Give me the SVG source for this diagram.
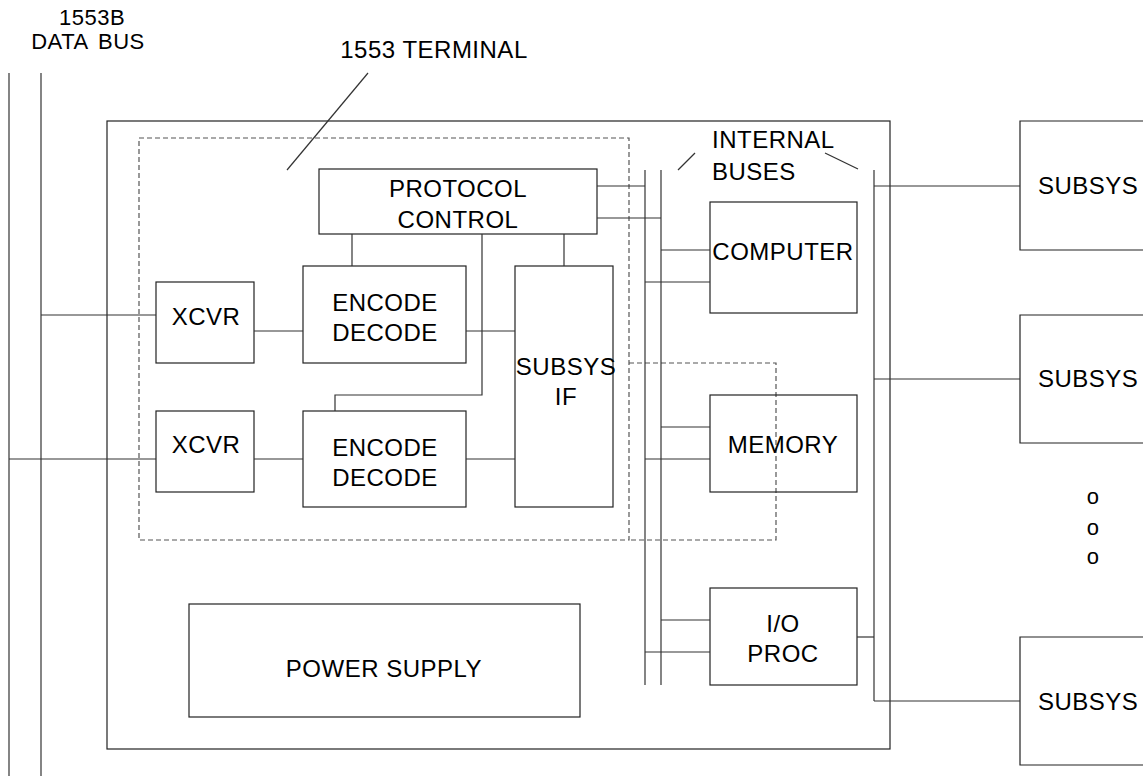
<svg xmlns="http://www.w3.org/2000/svg" width="1143" height="778" viewBox="0 0 1143 778">
<style>
.b{fill:none;stroke:#222;stroke-width:1.2}
.c{fill:none;stroke:#333;stroke-width:1.2}
.d{fill:none;stroke:#555;stroke-width:1.2;stroke-dasharray:5,3}
text{font-family:"Liberation Sans",Arial,sans-serif;font-size:24px;fill:#000;text-anchor:middle;letter-spacing:0.5px}
.l{text-anchor:start}
.s{font-size:22px}
.o{font-size:22px}
</style>
<rect width="1143" height="778" fill="#fff"/>
<g id="data-bus">
<line class="c" x1="9" y1="73" x2="9" y2="776"/>
<line class="c" x1="41" y1="73" x2="41" y2="776"/>
<text class="s" x="92" y="25">1553B</text>
<text class="s" x="88" y="49" style="word-spacing:4px">DATA BUS</text>
</g>
<g id="terminal-outer"><rect class="b" x="107" y="121" width="783" height="628"/></g>
<g id="terminal-1553">
<path class="d" d="M139,138 H629 V540 H139 Z"/>
<path class="d" d="M629,363 H776 V540 H629"/>
<text x="434" y="58">1553 TERMINAL</text>
<line class="c" x1="368" y1="73" x2="287" y2="170"/>
</g>
<g id="protocol-control"><rect class="b" x="319" y="169" width="278" height="65"/><text x="458" y="197">PROTOCOL</text><text x="458" y="228">CONTROL</text></g>
<g id="encode-decode-1"><rect class="b" x="303" y="266" width="163" height="97"/><text x="385" y="311">ENCODE</text><text x="385" y="341">DECODE</text></g>
<g id="encode-decode-2"><rect class="b" x="303" y="411" width="163" height="96"/><text x="385" y="456">ENCODE</text><text x="385" y="486">DECODE</text></g>
<g id="xcvr-1"><rect class="b" x="156" y="282" width="98" height="81"/><text x="206" y="325">XCVR</text></g>
<g id="xcvr-2"><rect class="b" x="156" y="411" width="98" height="81"/><text x="206" y="453">XCVR</text></g>
<g id="subsys-if"><rect class="b" x="515" y="266" width="98" height="241"/><text x="566" y="375">SUBSYS</text><text x="566" y="405">IF</text></g>
<g id="computer"><rect class="b" x="710" y="202" width="147" height="111"/><text x="783" y="260">COMPUTER</text></g>
<g id="memory"><rect class="b" x="710" y="395" width="147" height="97"/><text x="783" y="453">MEMORY</text></g>
<g id="io-proc"><rect class="b" x="710" y="588" width="147" height="97"/><text x="783" y="632">I/O</text><text x="783" y="662">PROC</text></g>
<g id="power-supply"><rect class="b" x="189" y="604" width="391" height="113"/><text x="384" y="677">POWER SUPPLY</text></g>
<g id="internal-buses">
<line class="c" x1="645" y1="170" x2="645" y2="685"/>
<line class="c" x1="661" y1="170" x2="661" y2="685"/>
<line class="c" x1="874" y1="170" x2="874" y2="701"/>
<text class="l" x="712" y="148">INTERNAL</text>
<text class="l" x="712" y="180">BUSES</text>
<line class="c" x1="695" y1="153" x2="678" y2="170"/>
<line class="c" x1="825" y1="153" x2="858" y2="169"/>
</g>
<g id="subsys-1"><path class="b" d="M1145,121 H1020 V250 H1145"/><text class="l" x="1038" y="194">SUBSYS</text></g>
<g id="subsys-2"><path class="b" d="M1145,315 H1020 V443 H1145"/><text class="l" x="1038" y="387">SUBSYS</text></g>
<g id="subsys-3"><path class="b" d="M1145,637 H1020 V765 H1145"/><text class="l" x="1038" y="710">SUBSYS</text></g>
<g id="ellipsis"><text class="o" x="1093" y="504">o</text><text class="o" x="1093" y="535">o</text><text class="o" x="1093" y="564">o</text></g>
<g id="connectors">
<line class="c" x1="41" y1="315" x2="156" y2="315"/>
<line class="c" x1="9" y1="459" x2="156" y2="459"/>
<line class="c" x1="254" y1="331" x2="303" y2="331"/>
<line class="c" x1="254" y1="459" x2="303" y2="459"/>
<line class="c" x1="466" y1="331" x2="515" y2="331"/>
<line class="c" x1="466" y1="459" x2="515" y2="459"/>
<line class="c" x1="352" y1="234" x2="352" y2="266"/>
<line class="c" x1="564" y1="234" x2="564" y2="266"/>
<path class="c" d="M482,234 V395 H335 V411"/>
<line class="c" x1="597" y1="186" x2="645" y2="186"/>
<line class="c" x1="597" y1="218" x2="661" y2="218"/>
<line class="c" x1="661" y1="250" x2="710" y2="250"/>
<line class="c" x1="645" y1="282" x2="710" y2="282"/>
<line class="c" x1="661" y1="427" x2="710" y2="427"/>
<line class="c" x1="645" y1="459" x2="710" y2="459"/>
<line class="c" x1="661" y1="620" x2="710" y2="620"/>
<line class="c" x1="645" y1="652" x2="710" y2="652"/>
<line class="c" x1="857" y1="637" x2="874" y2="637"/>
<line class="c" x1="874" y1="186" x2="1020" y2="186"/>
<line class="c" x1="874" y1="379" x2="1020" y2="379"/>
<line class="c" x1="874" y1="701" x2="1020" y2="701"/>
</g>
</svg>
